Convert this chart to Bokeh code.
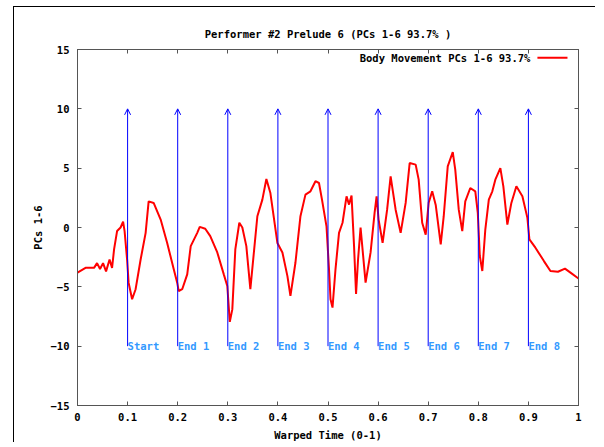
from bokeh.plotting import figure
from bokeh.models import (ColumnDataSource, Arrow, OpenHead, LabelSet, Label,
                          LinearAxis, FixedTicker, Range1d)
from bokeh.core.properties import value
from bokeh.embed import file_html
from bokeh.resources import INLINE

# ---------------- data ----------------
time = [0.000, 0.016, 0.033, 0.039, 0.045, 0.051, 0.057, 0.064, 0.069, 0.073,
        0.079, 0.086, 0.091, 0.094, 0.099, 0.102, 0.109, 0.116, 0.126, 0.136,
        0.142, 0.152, 0.166, 0.179, 0.192, 0.199, 0.202, 0.209, 0.219, 0.226,
        0.239, 0.244, 0.255, 0.265, 0.279, 0.292, 0.299, 0.304, 0.309, 0.315,
        0.323, 0.329, 0.337, 0.345, 0.359, 0.369, 0.377, 0.385, 0.399, 0.409,
        0.419, 0.425, 0.435, 0.445, 0.455, 0.465, 0.475, 0.482, 0.488, 0.497,
        0.502, 0.505, 0.509, 0.515, 0.522, 0.529, 0.537, 0.542, 0.547, 0.552,
        0.556, 0.560, 0.565, 0.575, 0.585, 0.593, 0.597, 0.601, 0.609, 0.618,
        0.625, 0.635, 0.645, 0.655, 0.663, 0.675, 0.681, 0.688, 0.695, 0.701,
        0.708, 0.715, 0.725, 0.731, 0.739, 0.749, 0.754, 0.761, 0.768, 0.774,
        0.784, 0.794, 0.799, 0.803, 0.808, 0.814, 0.821, 0.828, 0.834, 0.844,
        0.850, 0.858, 0.866, 0.876, 0.888, 0.898, 0.902, 0.914, 0.931, 0.944,
        0.959, 0.973, 0.984, 1.000]
pcs = [-3.8, -3.4, -3.4, -3.0, -3.5, -3.0, -3.7, -2.7, -3.4, -1.85,
       -0.3, 0.0, 0.5, -0.3, -2.7, -4.65, -6.05, -5.2, -2.7, -0.45,
       2.2, 2.07, 0.67, -1.3, -3.5, -4.65, -5.35, -5.2, -3.95, -1.57,
       -0.45, 0.05, -0.1, -0.73, -2.1, -3.95, -4.93, -7.95, -6.9, -1.85,
       0.4, 0.0, -1.57, -5.2, 0.95, 2.35, 4.09, 2.9, -1.3, -2.1,
       -4.1, -5.77, -2.97, 0.95, 2.77, 3.05, 3.9, 3.75, 2.35, 0.1,
       -3.5, -6.05, -6.75, -3.5, -0.45, 0.4, 2.63, 1.93, 2.69, -1.57,
       -5.6, -2.7, 0.0, -4.65, -2.1, 1.23, 2.63, 0.67, -1.3, 1.5,
       4.3, 1.5, -0.45, 2.07, 5.43, 5.3, 4.03, 0.4, -0.6, 2.1,
       3.05, 1.9, -1.43, 0.95, 5.15, 6.36, 4.87, 1.5, -0.3, 2.2,
       3.33, 3.05, 1.23, -2.4, -3.67, -0.17, 2.35, 3.05, 4.03, 5.0,
       3.47, 0.25, 2.07, 3.47, 2.63, 0.81, -1.0, -1.7, -2.83, -3.67,
       -3.73, -3.47, -3.8, -4.3]

marker_x = [0.1, 0.2, 0.3, 0.4, 0.5, 0.6, 0.7, 0.8, 0.9]
marker_labels = ["Start", "End 1", "End 2", "End 3", "End 4", "End 5",
                 "End 6", "End 7", "End 8"]
marker_y_start = -10
marker_y_end = 10

x_ticks = [0, 0.1, 0.2, 0.3, 0.4, 0.5, 0.6, 0.7, 0.8, 0.9, 1]
x_tick_labels = ["0", "0.1", "0.2", "0.3", "0.4", "0.5", "0.6", "0.7",
                 "0.8", "0.9", "1"]
y_ticks = [-15, -10, -5, 0, 5, 10, 15]

title_text = "Performer #2 Prelude 6 (PCs 1-6 93.7% )"
legend_text = "Body Movement PCs 1-6 93.7%"
x_label = "Warped Time (0-1)"
y_label = "PCs 1-6"

# ---------------- styling ----------------
FONT = "DejaVu Sans Mono"
FS = "10.5px"
FRAME = "#555555"

p = figure(width=582, height=436, x_range=Range1d(0, 1), y_range=Range1d(-15, 15),
           output_backend="svg", toolbar_location=None,
           min_border_left=63, min_border_right=18,
           min_border_top=42, min_border_bottom=36)
p.styles = {"margin-left": "13px", "margin-top": "6px",
            "border-left": "1px solid black", "border-top": "1px solid black"}
p.background_fill_color = "white"
p.border_fill_color = "white"
p.outline_line_color = FRAME
p.outline_line_width = 1
p.xgrid.visible = False
p.ygrid.visible = False

p.title.text = title_text
p.title.align = "center"
p.title.text_font = FONT
p.title.text_font_size = FS
p.title.text_font_style = "bold"
p.title.text_color = "black"
p.title.standoff = 19

def style_axis(ax, ticks, show_labels=True):
    ax.ticker = FixedTicker(ticks=ticks)
    ax.major_tick_in = 4
    ax.major_tick_out = 0
    ax.minor_tick_in = 0
    ax.minor_tick_out = 0
    ax.axis_line_color = FRAME
    ax.major_tick_line_color = FRAME
    ax.major_label_text_font = FONT
    ax.major_label_text_font_style = "bold"
    ax.axis_label_text_font = FONT
    ax.axis_label_text_font_size = FS
    ax.axis_label_text_font_style = "bold"
    ax.axis_label_text_color = "black"
    if show_labels:
        ax.major_label_text_font_size = FS
        ax.major_label_text_color = "black"
    else:
        ax.major_label_text_font_size = "0px"
        ax.major_label_text_color = None
        ax.major_label_standoff = 0

style_axis(p.xaxis[0], x_ticks)
p.xaxis[0].major_label_overrides = dict(zip(x_ticks, x_tick_labels))
p.xaxis[0].axis_label = x_label
p.xaxis[0].major_label_standoff = 7
p.xaxis[0].axis_label_standoff = 5

style_axis(p.yaxis[0], y_ticks)
p.yaxis[0].axis_label = y_label
p.yaxis[0].major_label_standoff = 8
p.yaxis[0].axis_label_standoff = 4

top_ax = LinearAxis()
style_axis(top_ax, x_ticks, show_labels=False)
p.add_layout(top_ax, "above")
right_ax = LinearAxis()
style_axis(right_ax, y_ticks, show_labels=False)
p.add_layout(right_ax, "right")

# curve
p.line(time, pcs, line_color="#ff0000", line_width=2)

# markers
msrc = ColumnDataSource(dict(x=marker_x, y0=[marker_y_start] * len(marker_x),
                             y1=[marker_y_end] * len(marker_x), label=marker_labels))
p.add_layout(Arrow(end=OpenHead(size=6, line_color="#0000ff", line_width=1),
                   x_start="x", y_start="y0", x_end="x", y_end="y1",
                   source=msrc, line_color="#0000ff", line_width=1))
p.add_layout(LabelSet(x="x", y="y0", text="label", source=msrc,
                      text_align="left", text_baseline="middle",
                      text_color="#3399ff", text_font=value(FONT),
                      text_font_size=value(FS),
                      text_font_style="bold"))

# legend (gnuplot style: text then sample line)
LEG_Y = 14.3
p.add_layout(Label(x=0.904, y=LEG_Y, text=legend_text, text_align="right",
                   text_baseline="middle", text_font=FONT, text_font_size=FS,
                   text_font_style="bold", text_color="black"))
p.segment(x0=[0.918], y0=[LEG_Y], x1=[0.978], y1=[LEG_Y],
          line_color="#ff0000", line_width=2)

open("out.html", "w").write(file_html(p, INLINE))
